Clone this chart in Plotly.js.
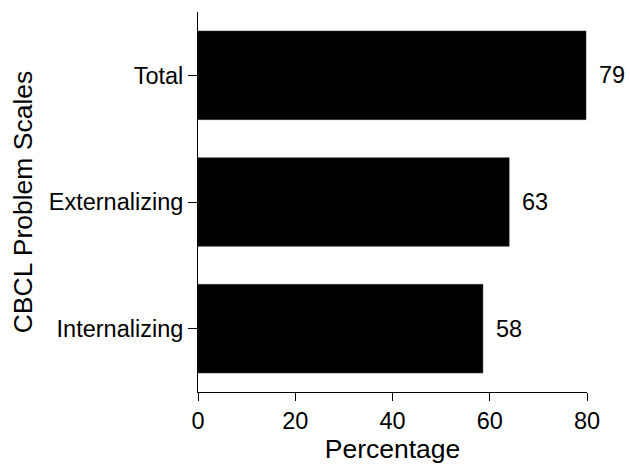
<!DOCTYPE html>
<html>
<head>
<meta charset="utf-8">
<script src="https://cdn.plot.ly/plotly-3.0.1.min.js"></script>
<style>html,body{margin:0;padding:0;background:#fff;}#chart{width:630px;height:464px;}</style>
</head>
<body>
<div id="chart"></div>
<script>
const categories = ["Internalizing", "Externalizing", "Total"];
const values = [58.6, 64.0, 79.8];
const labels = ["58", "63", "79"];
const xTicks = [0, 20, 40, 60, 80];

const font = "Liberation Sans, Arial, sans-serif";

const trace = {
  type: "bar",
  orientation: "h",
  y: categories,
  x: values,
  width: 0.7,
  marker: {color: "#000000", line: {color: "#333333", width: 0.5}},
  cliponaxis: false,
  hoverinfo: "none"
};

const annotations = categories.map((c, i) => ({
  x: values[i], y: c, xref: "x", yref: "y",
  text: labels[i], showarrow: false,
  xanchor: "left", yanchor: "middle", xshift: 11,
  font: {family: font, size: 23.5, color: "#000"}
}));

const layout = {
  width: 630, height: 464,
  margin: {l: 197.5, r: 43, t: 12, b: 72},
  paper_bgcolor: "#fff", plot_bgcolor: "#fff",
  showlegend: false,
  font: {family: font, color: "#000"},
  xaxis: {
    range: [0, 80], tickvals: xTicks, ticktext: xTicks.map(String),
    showgrid: false, zeroline: false, showline: true, linecolor: "#000", linewidth: 1,
    ticks: "outside", ticklen: 8, tickwidth: 1, tickcolor: "#000",
    tickfont: {family: font, size: 23.5, color: "#000"},
    title: {text: "Percentage", font: {family: font, size: 26.5, color: "#000"}, standoff: 5},
    fixedrange: true
  },
  yaxis: {
    type: "category", categoryorder: "array", categoryarray: categories,
    range: [-0.5, 2.5],
    showgrid: false, zeroline: false, showline: true, linecolor: "#000", linewidth: 1,
    ticks: "outside", ticklen: 9, tickwidth: 1, tickcolor: "#000",
    tickfont: {family: font, size: 23.5, color: "#000"},
    title: {text: "CBCL Problem Scales", font: {family: font, size: 26.5, color: "#000"}, standoff: 8},
    fixedrange: true
  },
  annotations: annotations
};

Plotly.newPlot("chart", [trace], layout, {staticPlot: true, displayModeBar: false});
</script>
</body>
</html>
